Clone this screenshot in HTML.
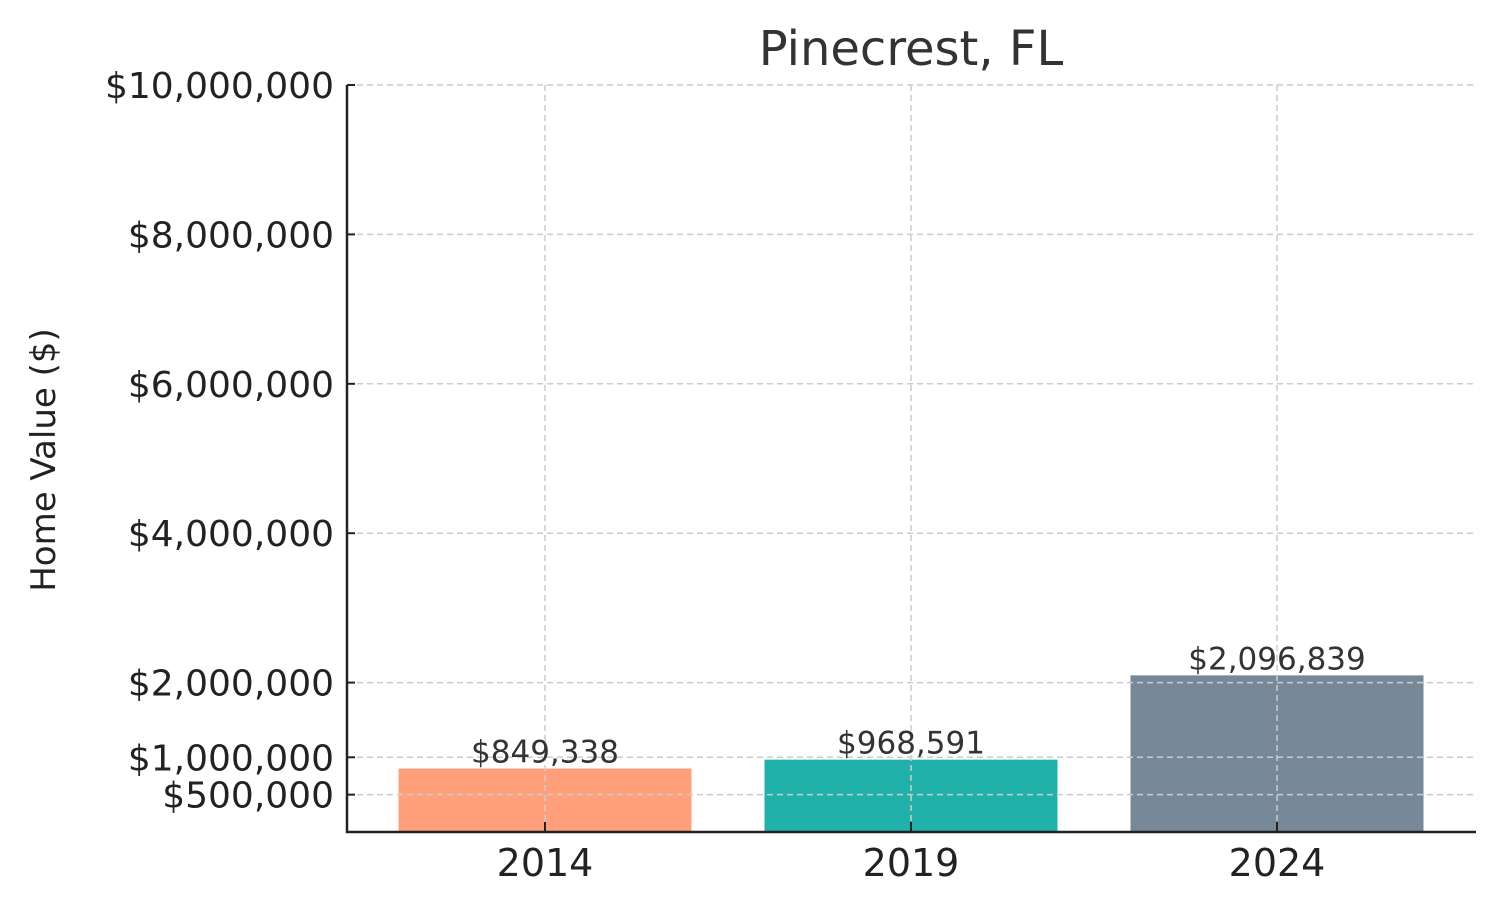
<!DOCTYPE html>
<html><head><meta charset="utf-8"><style>
html,body{margin:0;padding:0;background:#fff;}
svg text{font-family:"DejaVu Sans","Liberation Sans",sans-serif;}
</style></head><body>
<svg width="1500" height="909" xmlns="http://www.w3.org/2000/svg">
<g id="root"></g>
</svg>
<script>
const categories = ["2014","2019","2024"];
const values = [849338, 968591, 2096839];
const valueLabels = ["$849,338","$968,591","$2,096,839"];
const yTicks = [500000,1000000,2000000,4000000,6000000,8000000,10000000];
const yTickLabels = ["$500,000","$1,000,000","$2,000,000","$4,000,000","$6,000,000","$8,000,000","$10,000,000"];
const colors = ["#FFA07A","#20B2AA","#778899"];

const NS="http://www.w3.org/2000/svg";
const root=document.getElementById('root');
const L=347,R=1476,T=85,B=832;
const y=v=>B-(v/10000000)*(B-T);
const step=366, x0=545;
const x=i=>x0+i*step;
const bw=293;
function mk(tag,attrs,parent){const e=document.createElementNS(NS,tag);for(const k in attrs)e.setAttribute(k,attrs[k]);(parent||root).appendChild(e);return e;}

// title
let t=mk('text',{x:911,y:65,'text-anchor':'middle','font-size':48,fill:'#333'});
t.textContent="Pinecrest, FL";


// y axis title
t=mk('text',{x:0,y:0,'text-anchor':'middle','font-size':34,fill:'#222',transform:'translate(55,460) rotate(-90)'});
t.textContent="Home Value ($)";



// bars
values.forEach((v,i)=>{
  const r=mk('rect',{x:x(i)-bw/2,y:y(v),width:bw,height:B-y(v),fill:colors[i]});
  
  
});
// grid
yTicks.forEach((v,i)=>{
  const g=mk('line',{x1:L,x2:R,y1:y(v),y2:y(v),stroke:'#cccccc','stroke-width':1.5,'stroke-dasharray':'6,4'});
  
  
  const tk=mk('line',{x1:L,x2:L+8,y1:y(v),y2:y(v),stroke:'#222','stroke-width':2});
  
  
  const lb=mk('text',{x:334,y:y(v)+13,'text-anchor':'end','font-size':36,fill:'#222'});
  lb.textContent=yTickLabels[i];
  
  
});
categories.forEach((c,i)=>{
  const g=mk('line',{x1:x(i),x2:x(i),y1:T,y2:B,stroke:'#cccccc','stroke-width':1.5,'stroke-dasharray':'6,4'});
  
  
  const tk=mk('line',{x1:x(i),x2:x(i),y1:B,y2:B-10,stroke:'#222','stroke-width':2});
  
  
  const lb=mk('text',{x:x(i),y:876,'text-anchor':'middle','font-size':38,fill:'#222'});
  lb.textContent=c;
  
  
  const vl=mk('text',{x:x(i),y:y(values[i])-6,'text-anchor':'middle','font-size':31,fill:'#333'});
  vl.textContent=valueLabels[i];
  
  
});
// axes
let a=mk('line',{x1:L,x2:L,y1:T,y2:B+1,stroke:'#222','stroke-width':2.5});


a=mk('line',{x1:L-1,x2:R,y1:B,y2:B,stroke:'#222','stroke-width':2.5});


</script>
</body></html>
